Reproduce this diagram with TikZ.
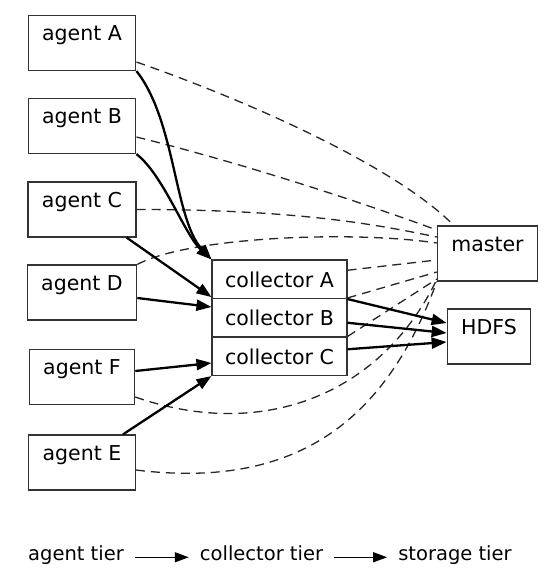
\documentclass[tikz,border=0pt]{standalone}
\usepackage{fontspec}
\setmainfont{DejaVu Sans}
\usetikzlibrary{arrows.meta}

\tikzset{
  agentbox/.style={draw=black!80, line width=1.1pt, inner xsep=14pt, inner ysep=0pt,
    text height=25pt, text depth=30pt, font=\fontsize{20.5}{24}\selectfont},
  colbox/.style={draw=black!80, line width=1.1pt, minimum width=135pt, inner xsep=0pt,
    inner ysep=0pt, text height=27pt, text depth=11.5pt, font=\fontsize{20.5}{24}\selectfont},
  flow/.style={line width=2.3pt, -{Triangle[length=15pt,width=11pt]}},
  ctrl/.style={black!85, line width=1.3pt, dash pattern=on 9pt off 6pt},
  tier/.style={inner xsep=11pt, font=\fontsize{19.5}{23}\selectfont},
  tierarrow/.style={line width=1.3pt, -{Triangle[length=14pt,width=10pt]}}
}

\begin{document}
\begin{tikzpicture}[x=1pt, y=-1pt]
                \useasboundingbox (0,0) rectangle (560,571);
                % agent tier
                \node[agentbox] (agentA) at (82,43) {agent A};
                \node[agentbox] (agentB) at (82,126) {agent B};
                \node[agentbox] (agentC) at (82,209.5) {agent C};
                \node[agentbox] (agentD) at (82,292.5) {agent D};
                \node[agentbox] (agentF) at (82,377) {agent F};
                \node[agentbox] (agentE) at (82,462.5) {agent E};
                % collector tier
                \node[colbox] (colA) at (279.5,279.25) {collector A};
                \node[colbox] (colB) at (279.5,317.75) {collector B};
                \node[colbox] (colC) at (279.5,356.25) {collector C};
                % storage tier and master
                \node[agentbox] (master) at (487.5,253.5) {master};
                \node[agentbox] (hdfs) at (489,336.5) {HDFS};
                % control links to master
                \draw[ctrl] ([yshift=-19pt]agentA.east) .. controls +(123,43) and +(-55,-56) .. ([xshift=17pt]master.north west);
                \draw[ctrl] ([yshift=-11pt]agentB.east) .. controls +(113,28) and +(-68,-25) .. ([yshift=23.5pt]master.west);
                \draw[ctrl] (agentC.east) .. controls +(163,0) and +(-58,-12) .. ([yshift=16.5pt]master.west);
                \draw[ctrl] (agentD.north east) .. controls +(50,-27) and +(-88,-13) .. ([yshift=10.5pt]master.west);
                \draw[ctrl] ([yshift=9pt]colA.east) -- ([yshift=-6.5pt]master.west);
                \draw[ctrl] (colB.north east) -- ([yshift=-18.5pt]master.west);
                \draw[ctrl] (colC.north east) -- ([yshift=-25.5pt]master.west);
                \draw[ctrl] ([yshift=-20pt]agentF.east) .. controls +(123,43) and +(-58,119) .. ([yshift=2pt]master.south west);
                \draw[ctrl] ([yshift=-7.5pt]agentE.east) .. controls +(163,20) and +(-50,137) .. (master.south west);
                % data flow
                \draw[flow] (agentA.south east) .. controls +(39,49) and +(-37,-40) .. (colA.north west);
                \draw[flow] (agentB.south east) .. controls +(27,21) and +(-27,-25) .. (colA.north west);
                \draw[flow] ([xshift=-10pt]agentC.south east) -- ([yshift=2pt]colA.south west);
                \draw[flow] ([yshift=-5.5pt]agentD.east) -- ([yshift=10.75pt]colB.west);
                \draw[flow] ([yshift=6pt]agentF.east) -- ([yshift=-6.75pt]colC.west);
                \draw[flow] ([xshift=-13pt]agentE.north east) -- (colC.south west);
                \draw[flow] (colA.south east) -- ([yshift=13.5pt]hdfs.west);
                \draw[flow] ([yshift=-5pt]colB.east) -- ([yshift=3.5pt]hdfs.west);
                \draw[flow] ([yshift=7pt]colC.east) -- ([yshift=-5.5pt]hdfs.west);
                % legend
                \node[tier, anchor=base] (tierA) at (76,560) {agent tier};
                \node[tier, anchor=base] (tierC) at (261.5,560) {collector tier};
                \node[tier, anchor=base] (tierS) at (455,560) {storage tier};
                \draw[tierarrow] (tierA.mid east) -- (tierC.mid west);
                \draw[tierarrow] (tierC.mid east) -- (tierS.mid west);
            \end{tikzpicture}
\end{document}
